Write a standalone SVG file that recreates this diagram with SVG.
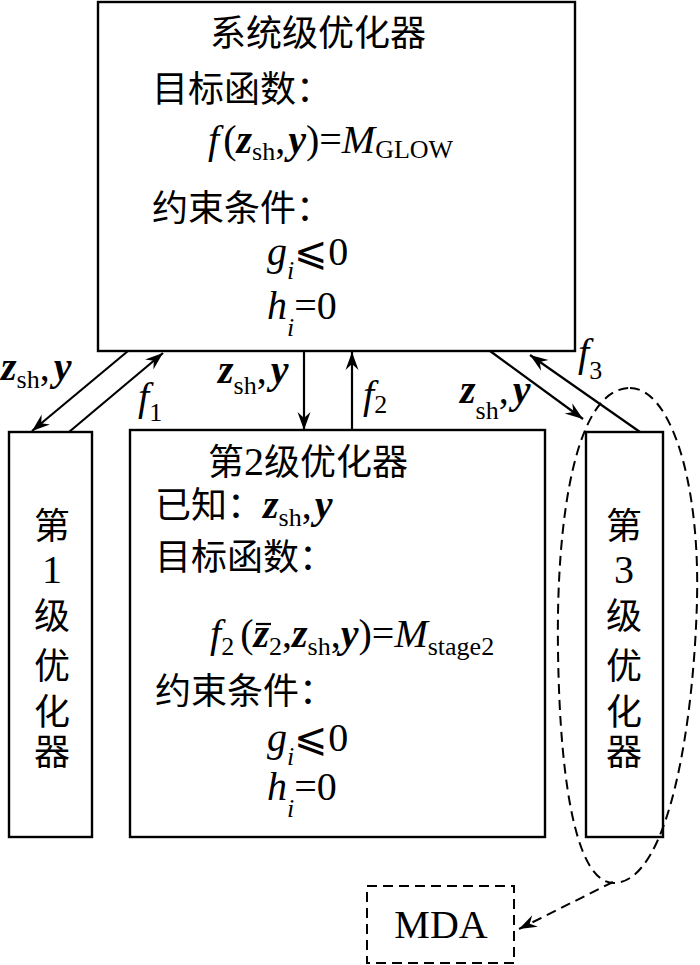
<svg xmlns="http://www.w3.org/2000/svg" width="700" height="965" viewBox="0 0 700 965">
<defs>
<style>
.box{fill:#fff;stroke:#000;stroke-width:2.4}
.dash{fill:none;stroke:#000;stroke-width:2;stroke-dasharray:10 6}
.ln{fill:none;stroke:#000;stroke-width:2.2}
.cj{font-family:"Liberation Serif","Noto Sans CJK SC",serif;font-size:36px;fill:#000}
.t{font-family:"Liberation Serif","DejaVu Serif",serif;font-size:40px;fill:#000}
.it{font-style:italic}
.bi{font-style:italic;font-weight:bold}
.sub{font-size:26px;font-style:normal;font-weight:normal}
.si{font-size:26px;font-style:italic;font-weight:normal}
</style>
<marker id="ah" markerUnits="userSpaceOnUse" markerWidth="22" markerHeight="16" viewBox="-19 -8 20 16" refX="0" refY="0" orient="auto">
<path d="M0,0 L-18,-6.5 L-12,0 L-18,6.5 Z" fill="#000"/>
</marker>
</defs>

<g id="system">
<rect class="box" x="98" y="2" width="477" height="349"/>
<text class="cj" x="210" y="46">系统级优化器</text>
<text class="cj" x="152" y="102">目标函数：</text>
<text class="t" x="208" y="153"><tspan class="it">f</tspan><tspan dx="4">(</tspan><tspan class="bi">z</tspan><tspan class="sub" dy="7">sh</tspan><tspan dy="-7">,</tspan><tspan class="bi" dx="3">y</tspan>)=<tspan class="it">M</tspan><tspan class="sub" dy="5">GLOW</tspan></text>
<text class="cj" x="152" y="221">约束条件：</text>
<text class="t" x="267" y="265"><tspan class="it">g</tspan><tspan class="si" dy="14">i</tspan><tspan dy="-14">⩽0</tspan></text>
<text class="t" x="267" y="319"><tspan class="it">h</tspan><tspan class="si" dy="17">i</tspan><tspan dy="-17">=0</tspan></text>
</g>

<g id="stage1">
<rect class="box" x="9" y="432" width="83" height="405"/>
<text class="cj" x="52" y="539" text-anchor="middle">第</text>
<text class="t" x="52" y="583" text-anchor="middle">1</text>
<text class="cj" x="52" y="629" text-anchor="middle">级</text>
<text class="cj" x="52" y="679" text-anchor="middle">优</text>
<text class="cj" x="52" y="725" text-anchor="middle">化</text>
<text class="cj" x="52" y="765" text-anchor="middle">器</text>
</g>

<g id="stage2">
<rect class="box" x="130" y="430" width="415" height="407"/>
<text class="cj" x="208" y="475">第</text>
<text class="t" x="244" y="475" font-size="38">2</text>
<text class="cj" x="264" y="475">级优化器</text>
<text class="cj" x="155" y="518">已知：<tspan class="t bi" font-size="38">z</tspan><tspan class="t sub" dy="8">sh</tspan><tspan class="t" font-size="38" dy="-8">,</tspan><tspan class="t bi" font-size="38" dx="3">y</tspan></text>
<text class="cj" x="155" y="570">目标函数：</text>
<text class="t" x="210" y="647"><tspan class="it">f</tspan><tspan class="sub" dy="8">2</tspan><tspan dy="-8" dx="6">(</tspan><tspan class="bi">z</tspan><tspan class="sub" dy="8">2</tspan><tspan dy="-8">,</tspan><tspan class="bi">z</tspan><tspan class="sub" dy="8">sh</tspan><tspan dy="-8">,</tspan><tspan class="bi">y</tspan>)=<tspan class="it">M</tspan><tspan class="sub" dy="8">stage2</tspan></text>
<line class="ln" x1="256" y1="624" x2="271" y2="624" stroke-width="2"/>
<text class="cj" x="155" y="704">约束条件：</text>
<text class="t" x="267" y="751"><tspan class="it">g</tspan><tspan class="si" dy="14">i</tspan><tspan dy="-14">⩽0</tspan></text>
<text class="t" x="267" y="800"><tspan class="it">h</tspan><tspan class="si" dy="17">i</tspan><tspan dy="-17">=0</tspan></text>
</g>

<g id="stage3">
<rect class="box" x="586" y="432" width="77" height="405"/>
<text class="cj" x="624" y="539" text-anchor="middle">第</text>
<text class="t" x="624" y="583" text-anchor="middle">3</text>
<text class="cj" x="624" y="629" text-anchor="middle">级</text>
<text class="cj" x="624" y="679" text-anchor="middle">优</text>
<text class="cj" x="624" y="725" text-anchor="middle">化</text>
<text class="cj" x="624" y="765" text-anchor="middle">器</text>
</g>

<g id="mda">
<rect class="dash" x="367" y="886" width="147" height="77"/>
<text class="t" x="441" y="938" text-anchor="middle" font-size="38">MDA</text>
</g>

<g id="loop">
<path class="dash" d="M630,388 C670,388 700,480 697,600 C694,720 670,880 615,883 C580,885 560,800 558,650 C556,520 575,388 630,388 Z"/>
</g>

<g id="connectors">
<line class="ln" x1="128" y1="351" x2="32" y2="431" marker-end="url(#ah)"/>
<line class="ln" x1="69" y1="432" x2="163" y2="353" marker-end="url(#ah)"/>
<line class="ln" x1="304" y1="351" x2="304" y2="430" marker-end="url(#ah)"/>
<line class="ln" x1="352" y1="430" x2="352" y2="352" marker-end="url(#ah)"/>
<line class="ln" x1="490" y1="351" x2="583" y2="419" marker-end="url(#ah)"/>
<line class="ln" x1="640" y1="432" x2="530" y2="355" marker-end="url(#ah)"/>
<line class="dash" x1="613" y1="882" x2="519" y2="929" marker-end="url(#ah)"/>
</g>

<g id="labels">
<text class="t" x="1" y="380" font-size="38"><tspan class="bi">z</tspan><tspan class="sub" dy="8">sh</tspan><tspan dy="-8">,</tspan><tspan class="bi" dx="4">y</tspan></text>
<text class="t" x="138" y="410" font-size="38"><tspan class="it">f</tspan><tspan class="sub" dy="11">1</tspan></text>
<text class="t" x="218" y="383" font-size="38"><tspan class="bi">z</tspan><tspan class="sub" dy="11">sh</tspan><tspan dy="-11">,</tspan><tspan class="bi" dx="4">y</tspan></text>
<text class="t" x="363" y="408" font-size="38"><tspan class="it">f</tspan><tspan class="sub" dy="5">2</tspan></text>
<text class="t" x="460" y="403" font-size="38"><tspan class="bi">z</tspan><tspan class="sub" dy="16">sh</tspan><tspan dy="-16">,</tspan><tspan class="bi" dx="4">y</tspan></text>
<text class="t" x="578" y="366" font-size="38"><tspan class="it">f</tspan><tspan class="sub" dy="13">3</tspan></text>
</g>
</svg>
